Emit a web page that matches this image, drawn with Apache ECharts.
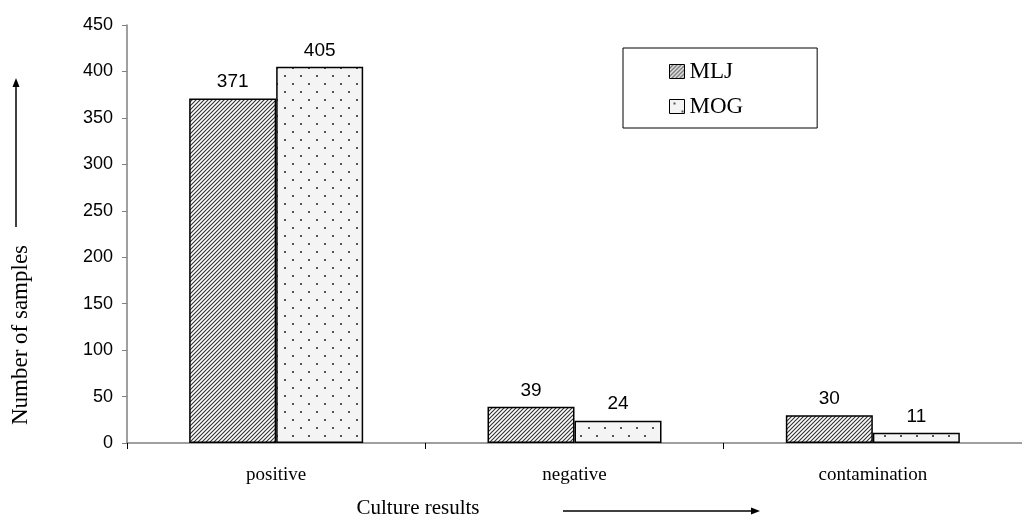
<!DOCTYPE html>
<html>
<head>
<meta charset="utf-8">
<script src="https://cdn.jsdelivr.net/npm/echarts@6/dist/echarts.min.js"></script>
<style>
  html, body { margin: 0; padding: 0; background: #fff; }
  #chart { width: 1022px; height: 517px; }
</style>
</head>
<body>
<div id="chart"></div>
<script>
// Culture results per medium
const categories = ['positive', 'negative', 'contamination'];
const mljValues = [371, 39, 30];
const mogValues = [405, 24, 11];
const yMin = 0, yMax = 450, yStep = 50;

// Diagonal hatch fill for MLJ
function hatchPattern() {
  const c = document.createElement('canvas');
  c.width = 4; c.height = 4;
  const g = c.getContext('2d');
  g.fillStyle = '#ffffff';
  g.fillRect(0, 0, 4, 4);
  g.strokeStyle = '#333333';
  g.lineWidth = 1.15;
  g.beginPath();
  g.moveTo(-1, 5); g.lineTo(5, -1);
  g.moveTo(-3, 3); g.lineTo(3, -3);
  g.moveTo(1, 7); g.lineTo(7, 1);
  g.stroke();
  return { image: c, repeat: 'repeat' };
}

// Sparse dot fill for MOG
function dotPattern() {
  const c = document.createElement('canvas');
  c.width = 16; c.height = 16;
  const g = c.getContext('2d');
  g.fillStyle = '#f4f4f4';
  g.fillRect(0, 0, 16, 16);
  g.fillStyle = '#555555';
  g.fillRect(4, 3, 2, 2);
  g.fillRect(12, 11, 2, 2);
  return { image: c, repeat: 'repeat' };
}

const chart = echarts.init(document.getElementById('chart'), null, { renderer: 'canvas' });

const serif = '"Liberation Serif", "Times New Roman", serif';
const sans = 'Arial, "Liberation Sans", sans-serif';

const valueLabel = {
  show: true,
  position: 'top',
  distance: 7,
  color: '#000',
  fontFamily: sans,
  fontSize: 19
};

chart.setOption({
  animation: false,
  backgroundColor: '#ffffff',
  grid: { left: 127, top: 25, height: 418, width: 908, containLabel: false },
  legend: {
    orient: 'vertical',
    left: 623,
    top: 48,
    data: ['MLJ', 'MOG'],
    icon: 'rect',
    itemWidth: 15,
    itemHeight: 14,
    itemGap: 12,
    borderColor: '#000',
    borderWidth: 1,
    padding: [12, 74, 10, 46],
    textStyle: { fontFamily: serif, fontSize: 23, color: '#000' },
    itemStyle: { borderColor: '#000', borderWidth: 1 }
  },
  xAxis: {
    type: 'category',
    data: categories,
    axisLine: { lineStyle: { color: '#808080', width: 1.5 } },
    axisTick: { show: true, length: 6, lineStyle: { color: '#000' } },
    axisLabel: {
      margin: 23,
      color: '#000',
      fontFamily: serif,
      fontSize: 19
    },
    splitLine: { show: false }
  },
  yAxis: {
    type: 'value',
    min: yMin,
    max: yMax,
    interval: yStep,
    axisLine: { show: true, lineStyle: { color: '#808080', width: 1.5 } },
    axisTick: { show: true, length: 5, lineStyle: { color: '#808080' } },
    axisLabel: {
      margin: 14,
      color: '#000',
      fontFamily: sans,
      fontSize: 18
    },
    splitLine: { show: false }
  },
  series: [
    {
      name: 'MLJ',
      type: 'bar',
      data: mljValues,
      barWidth: 87,
      barGap: '0%',
      itemStyle: { color: hatchPattern(), borderColor: '#000', borderWidth: 1.5 },
      label: valueLabel
    },
    {
      name: 'MOG',
      type: 'bar',
      data: mogValues,
      barWidth: 87,
      barGap: '0%',
      itemStyle: { color: dotPattern(), borderColor: '#000', borderWidth: 1.5 },
      label: valueLabel
    }
  ],
  graphic: [
    // vertical axis title with upward arrow
    {
      type: 'text',
      x: 21, y: 335,
      rotation: Math.PI / 2,
      style: {
        text: 'Number of samples',
        fill: '#000',
        font: '23px ' + serif,
        textAlign: 'center',
        textVerticalAlign: 'middle'
      }
    },
    { type: 'line', shape: { x1: 16, y1: 227, x2: 16, y2: 85 }, style: { stroke: '#000', lineWidth: 1.5 } },
    { type: 'polygon', shape: { points: [[16, 78], [12.5, 87], [19.5, 87]] }, style: { fill: '#000' } },
    // horizontal axis title with rightward arrow
    {
      type: 'text',
      x: 418, y: 508,
      style: {
        text: 'Culture results',
        fill: '#000',
        font: '21px ' + serif,
        textAlign: 'center',
        textVerticalAlign: 'middle'
      }
    },
    { type: 'line', shape: { x1: 563, y1: 511, x2: 752, y2: 511 }, style: { stroke: '#000', lineWidth: 1.5 } },
    { type: 'polygon', shape: { points: [[760, 511], [751, 507.5], [751, 514.5]] }, style: { fill: '#000' } }
  ]
});
</script>
</body>
</html>
